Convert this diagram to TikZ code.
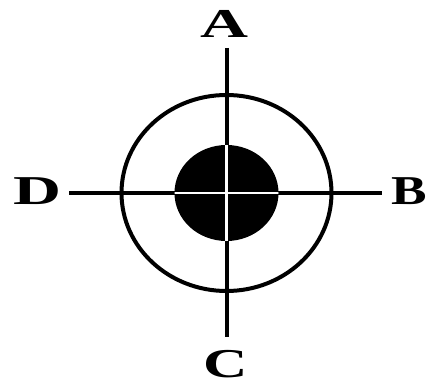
\documentclass[tikz,border=0pt]{standalone}
\usepackage{fontspec}
\setmainfont{Liberation Serif}
\begin{document}
\begin{tikzpicture}[x=1pt,y=-1pt,
  blk/.style={line width=4pt,black},
  lbl/.style={inner sep=0pt,font=\fontsize{41}{41}\selectfont\bfseries}]
\useasboundingbox (0,0) rectangle (429,387);
\coordinate (o) at (226.5,193);
\coordinate (top) at (226.5,48);
\coordinate (bot) at (226.5,337);
\coordinate (lft) at (69,193);
\coordinate (rgt) at (382,193);
\draw[blk] (top) -- (bot);
\draw[blk] (lft) -- (rgt);
\draw[blk] (o) ellipse [x radius=105, y radius=98];
\fill[black] (o) ellipse [x radius=52, y radius=48];
\begin{scope}
  \clip (o) ellipse [x radius=52, y radius=48];
  \draw[white,line width=2.5pt] (top) -- (bot);
  \draw[white,line width=2.5pt] (lft) -- (rgt);
\end{scope}
\node[lbl,xscale=1.62] (A) at (224,23.5) {A};
\node[lbl,xscale=1.3] (B) at (409,191) {B};
\node[lbl,xscale=1.5] (C) at (226,364.5) {C};
\node[lbl,xscale=1.62] (D) at (37,191) {D};
\end{tikzpicture}
\end{document}
